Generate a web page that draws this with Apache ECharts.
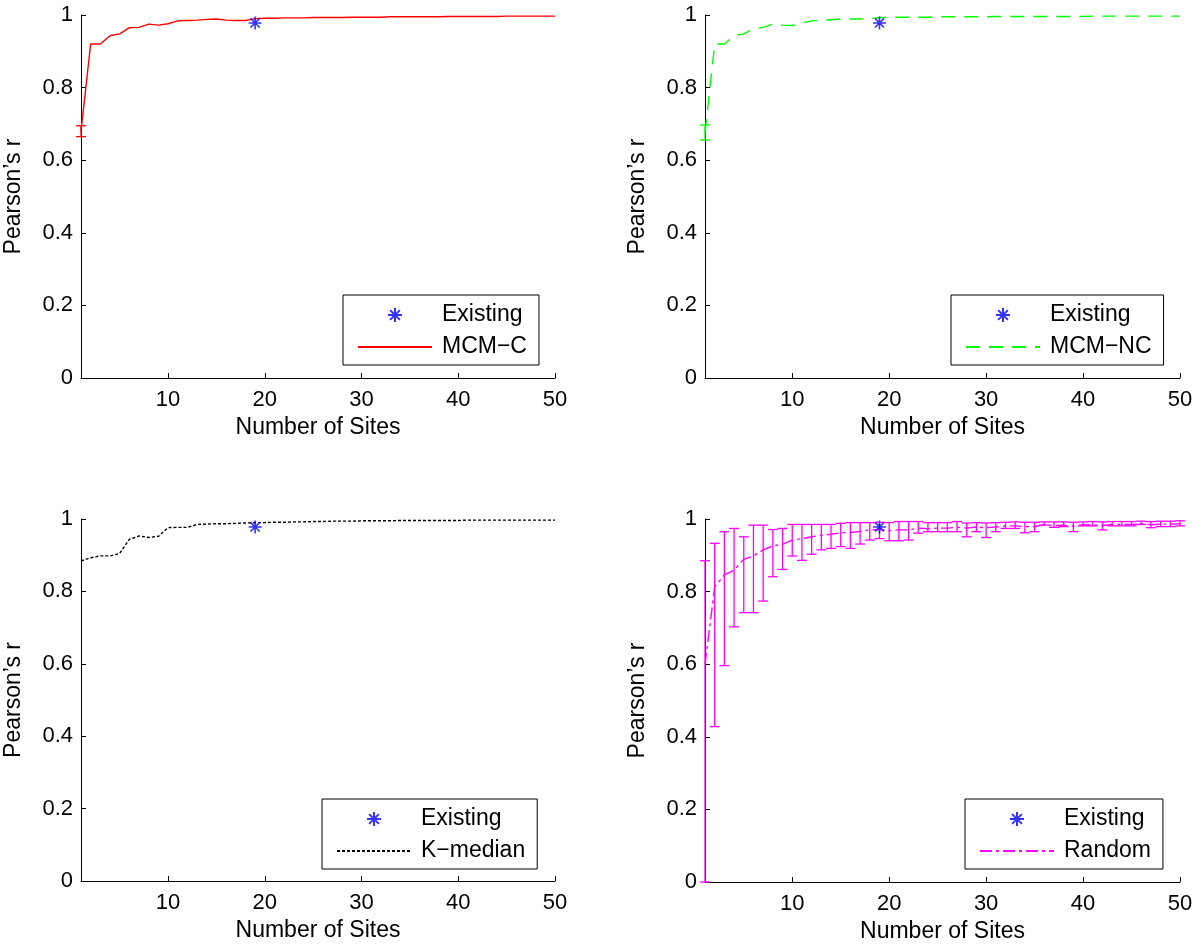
<!DOCTYPE html>
<html>
<head>
<meta charset="utf-8">
<title>Pearson's r vs Number of Sites</title>
<script src="https://cdn.jsdelivr.net/npm/echarts@6/dist/echarts.min.js"></script>
<style>
  html, body { margin: 0; padding: 0; background: #fff; }
  #chart { width: 1200px; height: 951px; }
</style>
</head>
<body>
<div id="chart"></div>
<script>
// number of sites 1..50
var sites = [];
for (var i = 1; i <= 50; i++) sites.push(i);

var xTicks = [10, 20, 30, 40, 50];

var mcmC = [0.68, 0.92, 0.92, 0.943, 0.948, 0.965, 0.966, 0.975, 0.972, 0.976,
  0.984, 0.985, 0.986, 0.988, 0.989, 0.986, 0.985, 0.985, 0.99, 0.991,
  0.991, 0.992, 0.992, 0.992, 0.993, 0.993, 0.993, 0.993, 0.994, 0.994,
  0.994, 0.994, 0.995, 0.995, 0.995, 0.995, 0.995, 0.995, 0.996, 0.996,
  0.996, 0.996, 0.996, 0.996, 0.997, 0.997, 0.997, 0.997, 0.997, 0.997];
var mcmCErr = [[1, 0.665, 0.695]];

var mcmNC = [0.675, 0.92, 0.92, 0.943, 0.948, 0.962, 0.966, 0.975, 0.972, 0.971,
  0.978, 0.984, 0.985, 0.987, 0.989, 0.989, 0.989, 0.99, 0.993, 0.993,
  0.994, 0.994, 0.994, 0.994, 0.995, 0.995, 0.995, 0.995, 0.995, 0.995,
  0.996, 0.996, 0.996, 0.996, 0.996, 0.996, 0.996, 0.996, 0.996, 0.996,
  0.997, 0.997, 0.997, 0.997, 0.997, 0.997, 0.997, 0.997, 0.997, 0.997];
var mcmNCErr = [[1, 0.656, 0.697]];

var kMedian = [0.884, 0.893, 0.898, 0.898, 0.905, 0.944, 0.953, 0.949, 0.952, 0.976,
  0.977, 0.977, 0.985, 0.986, 0.987, 0.987, 0.988, 0.989, 0.99, 0.99,
  0.991, 0.991, 0.992, 0.992, 0.993, 0.993, 0.994, 0.994, 0.994, 0.995,
  0.995, 0.995, 0.995, 0.996, 0.996, 0.996, 0.996, 0.996, 0.996, 0.996,
  0.997, 0.997, 0.997, 0.997, 0.997, 0.997, 0.997, 0.997, 0.997, 0.997];

var randomMean = [0.598, 0.813, 0.846, 0.859, 0.889, 0.898, 0.915, 0.926, 0.93, 0.942,
  0.946, 0.951, 0.955, 0.958, 0.962, 0.963, 0.966, 0.97, 0.971, 0.968,
  0.97, 0.97, 0.975, 0.973, 0.975, 0.975, 0.977, 0.975, 0.978, 0.976,
  0.978, 0.981, 0.981, 0.979, 0.979, 0.984, 0.982, 0.983, 0.98, 0.984,
  0.984, 0.982, 0.985, 0.985, 0.985, 0.987, 0.984, 0.986, 0.986, 0.987];
var randomLow = [0.0, 0.428, 0.596, 0.703, 0.742, 0.742, 0.774, 0.841, 0.861, 0.898,
  0.886, 0.903, 0.915, 0.919, 0.924, 0.919, 0.931, 0.942, 0.946, 0.94,
  0.94, 0.942, 0.961, 0.965, 0.965, 0.965, 0.965, 0.951, 0.965, 0.949,
  0.965, 0.974, 0.974, 0.962, 0.965, 0.983, 0.977, 0.979, 0.965, 0.981,
  0.981, 0.97, 0.981, 0.981, 0.981, 0.985, 0.976, 0.979, 0.979, 0.981];
var randomHigh = [0.885, 0.933, 0.965, 0.974, 0.951, 0.983, 0.983, 0.971, 0.974, 0.985,
  0.985, 0.985, 0.985, 0.985, 0.988, 0.99, 0.99, 0.99, 0.991, 0.99,
  0.993, 0.993, 0.993, 0.99, 0.99, 0.99, 0.993, 0.989, 0.99, 0.989,
  0.99, 0.991, 0.992, 0.991, 0.991, 0.992, 0.992, 0.992, 0.991, 0.992,
  0.993, 0.992, 0.993, 0.993, 0.993, 0.994, 0.993, 0.994, 0.994, 0.995];

var existing = [[19, 0.978]];

var FONT = 'Liberation Sans';
var STAR = 'path://M0,-10L0,10M-10,0L10,0M-7,-7L7,7M-7,7L7,-7';

function pairs(ys) {
  return ys.map(function (y, i) { return [sites[i], y]; });
}

function xAxis(gi) {
  return {
    type: 'value', gridIndex: gi, min: 1, max: 50,
    name: 'Number of Sites', nameLocation: 'middle', nameGap: 38,
    nameTextStyle: { fontFamily: FONT, fontSize: 23, color: '#000' },
    axisLine: { show: true, lineStyle: { color: '#000', width: 1 } },
    axisTick: { show: true, inside: true, length: 5, customValues: xTicks, lineStyle: { color: '#000' } },
    axisLabel: { customValues: xTicks, margin: 11, fontFamily: FONT, fontSize: 22, color: '#000' },
    splitLine: { show: false }
  };
}

function yAxis(gi) {
  return {
    type: 'value', gridIndex: gi, min: 0, max: 1, interval: 0.2,
    name: 'Pearson\u2019s r', nameLocation: 'middle', nameGap: 56, nameRotate: 90,
    nameTextStyle: { fontFamily: FONT, fontSize: 23, color: '#000' },
    axisLine: { show: true, lineStyle: { color: '#000', width: 1 } },
    axisTick: { show: true, inside: true, length: 5, lineStyle: { color: '#000' } },
    axisLabel: { margin: 8, fontFamily: FONT, fontSize: 22, color: '#000' },
    splitLine: { show: false }
  };
}

// the line entry gets no marker in its legend sample
function legend(left, top, lineName) {
  return {
    left: left, top: top, orient: 'vertical',
    data: ['Existing', { name: lineName, itemStyle: { opacity: 0 } }],
    backgroundColor: '#fff', borderColor: '#000', borderWidth: 1,
    padding: [8, 12, 6, 14],
    itemWidth: 74, itemHeight: 14, itemGap: 8,
    selectedMode: false,
    textStyle: { fontFamily: FONT, fontSize: 23, color: '#000', lineHeight: 24, padding: [0, 0, 0, 5] }
  };
}

function existingSeries(gi) {
  return {
    name: 'Existing', type: 'scatter', xAxisIndex: gi, yAxisIndex: gi,
    data: existing, symbol: STAR, symbolSize: 13, symbolKeepAspect: true,
    itemStyle: { color: '#0000ff', borderColor: '#0000ff', borderWidth: 1.6 },
    z: 5
  };
}

function lineSeries(gi, name, ys, color, dash) {
  return {
    name: name, type: 'line', xAxisIndex: gi, yAxisIndex: gi,
    data: pairs(ys), symbol: 'none', showSymbol: false,
    lineStyle: { color: color, width: 1.4, type: dash },
    itemStyle: { color: color },
    z: 3
  };
}

function errSeries(gi, rows, color) {
  return {
    type: 'custom', xAxisIndex: gi, yAxisIndex: gi, silent: true, z: 4,
    data: rows,
    renderItem: function (params, api) {
      var x = api.value(0);
      var lo = api.coord([x, api.value(1)]);
      var hi = api.coord([x, api.value(2)]);
      var w = 5;
      var st = { stroke: color, lineWidth: 1.3 };
      return {
        type: 'group',
        children: [
          { type: 'line', shape: { x1: lo[0], y1: lo[1], x2: hi[0], y2: hi[1] }, style: st },
          { type: 'line', shape: { x1: lo[0] - w, y1: lo[1], x2: lo[0] + w, y2: lo[1] }, style: st },
          { type: 'line', shape: { x1: hi[0] - w, y1: hi[1], x2: hi[0] + w, y2: hi[1] }, style: st }
        ]
      };
    }
  };
}

var randomErr = sites.map(function (s, i) { return [s, randomLow[i], randomHigh[i]]; });

var chart = echarts.init(document.getElementById('chart'), null, { renderer: 'canvas' });
var option = {
  backgroundColor: '#fff',
  animation: false,
  grid: [
    { left: 81, top: 15, width: 474, height: 363 },
    { left: 705, top: 15, width: 475, height: 363 },
    { left: 81, top: 519, width: 474, height: 362 },
    { left: 705, top: 519, width: 475, height: 363 }
  ],
  xAxis: [xAxis(0), xAxis(1), xAxis(2), xAxis(3)],
  yAxis: [yAxis(0), yAxis(1), yAxis(2), yAxis(3)],
  legend: [
    legend(343, 295, 'MCM\u2212C'),
    legend(951, 295, 'MCM\u2212NC'),
    legend(322, 799, 'K\u2212median'),
    legend(965, 799, 'Random')
  ],
  series: [
    lineSeries(0, 'MCM\u2212C', mcmC, '#ff0000', 'solid'),
    errSeries(0, mcmCErr, '#ff0000'),
    existingSeries(0),
    lineSeries(1, 'MCM\u2212NC', mcmNC, '#00ff00', [14, 9]),
    errSeries(1, mcmNCErr, '#00ff00'),
    existingSeries(1),
    lineSeries(2, 'K\u2212median', kMedian, '#000000', [3, 2]),
    existingSeries(2),
    lineSeries(3, 'Random', randomMean, '#ff00ff', [12, 4, 3, 4]),
    errSeries(3, randomErr, '#ff00ff'),
    existingSeries(3)
  ]
};
chart.setOption(option);
window.onresize = chart.resize;
</script>
</body>
</html>
